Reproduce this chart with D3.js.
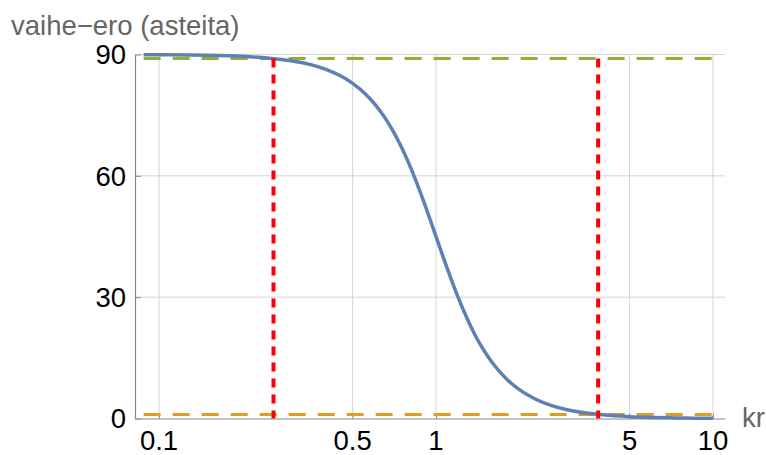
<!DOCTYPE html>
<html>
<head>
<meta charset="utf-8">
<script src="https://d3js.org/d3.v7.min.js"></script>
<style>
  body { margin: 0; background: #fff; }
  text { font-family: "Liberation Sans", Arial, sans-serif; }
</style>
</head>
<body>
<svg width="766" height="455"></svg>
<script>
// phase difference curve
var krValues = [0.088, 0.1, 0.15, 0.2, 0.25, 0.3, 0.35, 0.4, 0.45, 0.5, 0.55, 0.6, 0.65, 0.7, 0.75,
  0.8, 0.85, 0.9, 0.95, 1, 1.05, 1.1, 1.15, 1.2, 1.3, 1.4, 1.5, 1.6, 1.8, 2, 2.3, 2.6, 3, 3.5, 4,
  5, 6, 7, 8, 10];
var phaseValues = [89.96, 89.94, 89.81, 89.54, 89.10, 88.45, 87.55, 86.34, 84.79, 82.87, 80.55,
  77.81, 74.64, 71.07, 67.13, 62.89, 58.45, 53.91, 49.39, 45, 40.82, 36.92, 33.33, 30.06, 24.47,
  19.97, 16.50, 13.72, 9.73, 7.13, 4.70, 3.26, 2.12, 1.34, 0.90, 0.46, 0.27, 0.17, 0.11, 0.06];

// reference levels (dashed) and markers (red dotted)
var upperLevel = 89;
var lowerLevel = 1;
var markerKr = [0.259, 3.85];
var lineRange = [0.088, 10];

var xTicks = [0.1, 0.5, 1, 5, 10];
var xTickLabels = ["0.1", "0.5", "1", "5", "10"];
var yTicks = [0, 30, 60, 90];

var svg = d3.select("svg");

var x = d3.scaleLog().domain([0.0819, 11.05]).range([135, 725]);
var y = d3.scaleLinear().domain([0, 90]).range([418.5, 54.5]);

// grid
svg.append("g").selectAll("line").data(xTicks).enter().append("line")
  .attr("x1", function(d) { return x(d); }).attr("x2", function(d) { return x(d); })
  .attr("y1", y(0)).attr("y2", y(90))
  .attr("stroke", "#d4d4d4").attr("stroke-width", 1);
svg.append("g").selectAll("line").data(yTicks.slice(1)).enter().append("line")
  .attr("x1", x.range()[0]).attr("x2", x.range()[1])
  .attr("y1", function(d) { return y(d); }).attr("y2", function(d) { return y(d); })
  .attr("stroke", "#d4d4d4").attr("stroke-width", 1);

// axes
var xAxis = d3.axisTop(x).tickValues(xTicks).tickFormat("").tickSizeInner(5).tickSizeOuter(0);
var gx = svg.append("g").attr("transform", "translate(0," + y(0) + ")").call(xAxis);
var yAxis = d3.axisRight(y).tickValues(yTicks).tickFormat("").tickSizeInner(6).tickSizeOuter(0);
var gy = svg.append("g").attr("transform", "translate(" + x.range()[0] + ",0)").call(yAxis);
[gx, gy].forEach(function(g) {
  g.select(".domain").attr("stroke", "#8a8a8a").attr("stroke-width", 1.2);
  g.selectAll(".tick line").attr("stroke", "#8a8a8a");
});

svg.append("g").selectAll("text").data(xTicks).enter().append("text")
  .attr("x", function(d) { return x(d); }).attr("y", 450)
  .attr("text-anchor", "middle").attr("font-size", 27.5).attr("fill", "#000")
  .text(function(d, i) { return xTickLabels[i]; });
svg.append("g").selectAll("text").data(yTicks).enter().append("text")
  .attr("x", 126).attr("y", function(d) { return y(d); }).attr("dy", "0.36em")
  .attr("text-anchor", "end").attr("font-size", 27.5).attr("fill", "#000")
  .text(function(d) { return d; });

// axis titles
svg.append("text").attr("x", 11).attr("y", 35).attr("font-size", 27.5).attr("fill", "#666")
  .text("vaihe\u2212ero (asteita)");
svg.append("text").attr("x", 742).attr("y", 427).attr("font-size", 27.5).attr("fill", "#666")
  .text("kr");

// dashed reference levels
svg.append("line")
  .attr("x1", x(lineRange[0])).attr("x2", x(lineRange[1]))
  .attr("y1", y(upperLevel)).attr("y2", y(upperLevel))
  .attr("stroke", "#8fb032").attr("stroke-width", 3).attr("stroke-dasharray", "17,12");
svg.append("line")
  .attr("x1", x(lineRange[0])).attr("x2", x(lineRange[1]))
  .attr("y1", y(lowerLevel)).attr("y2", y(lowerLevel))
  .attr("stroke", "#e19c24").attr("stroke-width", 3).attr("stroke-dasharray", "17,12");

// curve
var data = krValues.map(function(k, i) { return [k, phaseValues[i]]; });
var line = d3.line()
  .x(function(d) { return x(d[0]); })
  .y(function(d) { return y(d[1]); })
  .curve(d3.curveMonotoneX);
svg.append("path").datum(data).attr("d", line)
  .attr("fill", "none").attr("stroke", "#5e81b5").attr("stroke-width", 3.5);

// red markers
svg.append("g").selectAll("line").data(markerKr).enter().append("line")
  .attr("x1", function(d) { return x(d); }).attr("x2", function(d) { return x(d); })
  .attr("y1", y(upperLevel)).attr("y2", y(0))
  .attr("stroke", "#ff0000").attr("stroke-width", 4).attr("stroke-dasharray", "9,7");
</script>
</body>
</html>
